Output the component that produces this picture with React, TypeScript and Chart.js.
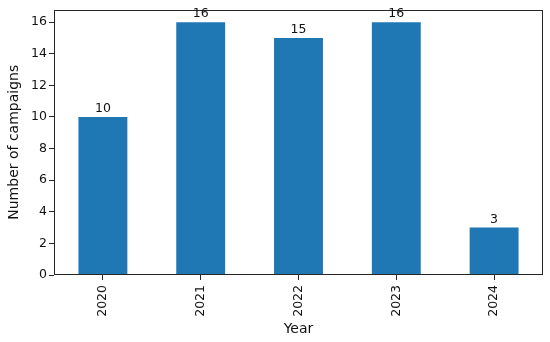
import React, { useEffect, useRef } from "react";
import { Chart, registerables } from "chart.js";

Chart.register(...registerables);

const years = ["2020", "2021", "2022", "2023", "2024"];
const campaigns = [10, 16, 15, 16, 3];
const yTickValues = [0, 2, 4, 6, 8, 10, 12, 14, 16];
const yMax = 16.8;

const FONT = "'DejaVu Sans', sans-serif";
const TEXT = "#111111";
const AXIS = "#262626";

const frameAndLabels = {
  id: "frameAndLabels",
  afterDatasetsDraw(chart: any) {
    const { ctx, chartArea } = chart;
    ctx.save();
    ctx.strokeStyle = AXIS;
    ctx.lineWidth = 1;
    const l = Math.round(chartArea.left) + 0.5;
    const t = Math.round(chartArea.top) + 0.5;
    const r = Math.round(chartArea.right) - 0.5;
    const b = Math.round(chartArea.bottom) - 0.5;
    ctx.strokeRect(l, t, r - l, b - t);
    const meta = chart.getDatasetMeta(0);
    ctx.fillStyle = TEXT;
    ctx.font = `12.5px ${FONT}`;
    ctx.textAlign = "center";
    ctx.textBaseline = "alphabetic";
    meta.data.forEach((bar: any, i: number) => {
      ctx.fillText(String(campaigns[i]), bar.x, bar.y - 5);
    });
    ctx.restore();
  },
};

export default function App() {
  const ref = useRef<HTMLCanvasElement | null>(null);
  useEffect(() => {
    document.body.style.margin = "0";
    const canvas = ref.current!;
    const chart = new Chart(canvas, {
      type: "bar",
      data: {
        labels: years,
        datasets: [
          {
            data: campaigns,
            backgroundColor: "#1f77b4",
            borderWidth: 0,
            barPercentage: 0.5,
            categoryPercentage: 1,
          },
        ],
      },
      options: {
        animation: false,
        responsive: false,
        devicePixelRatio: 1,
        layout: { padding: { left: 0, right: 7, top: 9, bottom: 0 } },
        plugins: { legend: { display: false }, tooltip: { enabled: false } },
        scales: {
          x: {
            afterFit: (s: any) => {
              s.height = 67;
            },
            grid: {
              offset: false,
              drawOnChartArea: false,
              drawTicks: true,
              tickLength: 5,
              color: AXIS,
            },
            border: { display: false },
            ticks: {
              minRotation: 90,
              maxRotation: 90,
              padding: 5,
              color: TEXT,
              font: { family: FONT, size: 12.5 },
            },
            title: {
              display: true,
              text: "Year",
              color: TEXT,
              font: { family: FONT, size: 14 },
              padding: { top: 0, bottom: 4.5 },
            },
          },
          y: {
            min: 0,
            max: yMax,
            afterFit: (s: any) => {
              s.width = 54;
            },
            afterBuildTicks: (s: any) => {
              s.ticks = yTickValues.map((v) => ({ value: v }));
            },
            grid: {
              drawOnChartArea: false,
              drawTicks: true,
              tickLength: 5,
              color: AXIS,
            },
            border: { display: false },
            ticks: {
              padding: 2,
              color: TEXT,
              font: { family: FONT, size: 12.5 },
            },
            title: {
              display: true,
              text: "Number of campaigns",
              color: TEXT,
              font: { family: FONT, size: 14 },
              padding: { top: 5.5, bottom: 0 },
            },
          },
        },
      },
      plugins: [frameAndLabels],
    });
    return () => chart.destroy();
  }, []);
  return (
    <div style={{ position: "absolute", left: 0, top: 0, width: 550, height: 342, background: "#fff" }}>
      <canvas ref={ref} width={550} height={342} />
    </div>
  );
}
